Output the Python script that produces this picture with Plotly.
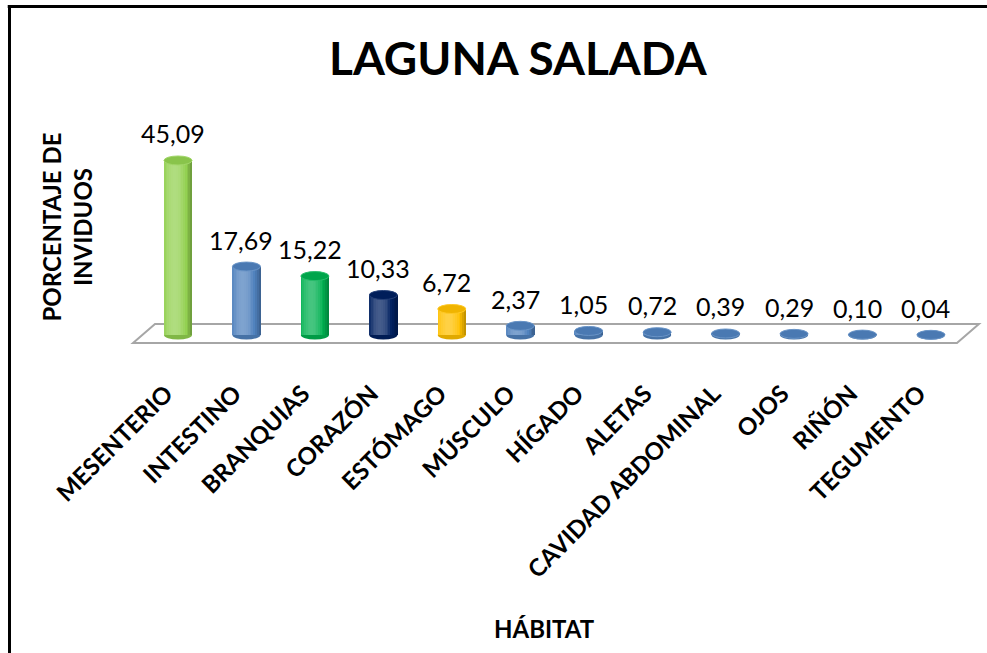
import math
import plotly.graph_objects as go

# ---- data -------------------------------------------------------------
categories = ["MESENTERIO", "INTESTINO", "BRANQUIAS", "CORAZÓN", "ESTÓMAGO",
              "MÚSCULO", "HÍGADO", "ALETAS", "CAVIDAD ABDOMINAL", "OJOS",
              "RIÑÓN", "TEGUMENTO"]
values = [45.09, 17.69, 15.22, 10.33, 6.72, 2.37, 1.05, 0.72, 0.39, 0.29, 0.10, 0.04]
bar_colors = ["#92D050", "#4F81BD", "#00B050", "#002060", "#FFC000",
              "#4F81BD", "#4F81BD", "#4F81BD", "#4F81BD", "#4F81BD",
              "#4F81BD", "#4F81BD"]
title_text = "LAGUNA SALADA"
y_title = "PORCENTAJE DE<br>INVIDUOS"
x_title = "HÁBITAT"

# ---- geometry ---------------------------------------------------------
W, H = 987, 653
ML, MR, MT, MB = 100, 0, 100, 303
PW, PH = W - ML - MR, H - MT - MB
X_RANGE = [-1.1395, 11.819]
Y_RANGE = [-3.876, 60.72]
px_per_y = PH / (Y_RANGE[1] - Y_RANGE[0])

HALF_W = 0.205            # cylinder half width (category units)
ELL_H = 4.5 / px_per_y    # ellipse half height (value units)
N_STRIPS = 16

FONT = "Lato, 'Open Sans', sans-serif"


def px_to_paper(px, py):
    return (px - ML) / PW, (H - MB - py) / PH


def hex_rgb(c):
    c = c.lstrip("#")
    return [int(c[i:i + 2], 16) for i in (0, 2, 4)]


def shade(c, amt):
    r = hex_rgb(c)
    if amt >= 0:
        r = [v + (255 - v) * amt for v in r]
    else:
        r = [v * (1 + amt) for v in r]
    return "rgb(%d,%d,%d)" % tuple(int(round(max(0, min(255, v)))) for v in r)


def strip_shade(t):
    # light band left of centre, darker toward both edges
    s = math.cos(math.pi * (t - 0.38) / 1.25)
    return -0.28 + 0.55 * s


xs = list(range(len(categories)))
fig = go.Figure()
shapes = []

# floor
floor_front = -2.07
floor_back = 2.84
fx0, fx1 = -0.657, len(categories) - 1 + 0.38
skew = 0.321
shapes.append(dict(
    type="path", xref="x", yref="y", layer="below",
    path=f"M {fx0},{floor_front} L {fx1},{floor_front} L {fx1 + skew},{floor_back} "
         f"L {fx0 + skew},{floor_back} Z",
    fillcolor="white", line=dict(color="#A6A6A6", width=2)))

# bottom ellipses of the cylinders
for x, c in zip(xs, bar_colors):
    shapes.append(dict(type="circle", xref="x", yref="y", layer="below",
                       x0=x - HALF_W, x1=x + HALF_W, y0=-ELL_H, y1=ELL_H,
                       fillcolor=shade(c, -0.12), line=dict(width=0)))

# cylinder bodies as narrow shaded bar strips
dw = 2 * HALF_W / N_STRIPS
for k in range(N_STRIPS):
    t = (k + 0.5) / N_STRIPS
    amt = strip_shade(t)
    fig.add_trace(go.Bar(
        x=xs, y=values, base=0,
        width=dw * 1.25, offset=-HALF_W + k * dw - dw * 0.125,
        marker=dict(color=[shade(c, amt) for c in bar_colors], line=dict(width=0)),
        hoverinfo="skip", showlegend=False))

# top ellipses
for x, v, c in zip(xs, values, bar_colors):
    shapes.append(dict(type="circle", xref="x", yref="y", layer="above",
                       x0=x - HALF_W, x1=x + HALF_W, y0=v - ELL_H, y1=v + ELL_H,
                       fillcolor=shade(c, -0.06), line=dict(color=shade(c, 0.15), width=1)))

# frame lines (left and top)
p0 = px_to_paper(9.5, 6.5)
p_bottom = px_to_paper(9.5, H + 5)
p_right = px_to_paper(W + 5, 6.5)
shapes.append(dict(type="line", xref="paper", yref="paper", layer="above",
                   x0=p0[0], y0=p0[1], x1=p_bottom[0], y1=p_bottom[1],
                   line=dict(color="black", width=3)))
shapes.append(dict(type="line", xref="paper", yref="paper", layer="above",
                   x0=p0[0] - 0.002, y0=p0[1], x1=p_right[0], y1=p_right[1],
                   line=dict(color="black", width=3)))

annotations = []
# value labels
for x, v in zip(xs, values):
    annotations.append(dict(x=x, y=v, xref="x", yref="y", text=f"{v:.2f}".replace(".", ","),
                            showarrow=False, yanchor="bottom", xanchor="center",
                            yshift=10, xshift=-5,
                            font=dict(family=FONT, size=25, color="black")))

tx, ty = px_to_paper(518, 57)
annotations.append(dict(x=tx, y=ty, xref="paper", yref="paper", text=f"<b>{title_text}</b>",
                        showarrow=False, xanchor="center", yanchor="middle",
                        font=dict(family=FONT, size=46, color="black")))
yx, yy = px_to_paper(66.5, 227)
annotations.append(dict(x=yx, y=yy, xref="paper", yref="paper", text=f"<b>{y_title}</b>",
                        showarrow=False, xanchor="center", yanchor="middle", textangle=-90,
                        font=dict(family=FONT, size=24, color="black")))
hx, hy = px_to_paper(544.5, 628)
annotations.append(dict(x=hx, y=hy, xref="paper", yref="paper", text=f"<b>{x_title}</b>",
                        showarrow=False, xanchor="center", yanchor="middle",
                        font=dict(family=FONT, size=24, color="black")))

fig.update_layout(
    width=W, height=H,
    margin=dict(l=ML, r=MR, t=MT, b=MB),
    paper_bgcolor="white", plot_bgcolor="white",
    barmode="overlay", bargap=0,
    shapes=shapes, annotations=annotations,
    xaxis=dict(range=X_RANGE, tickmode="array", tickvals=xs,
               ticktext=[f"<b>{c}</b>" for c in categories],
               tickangle=-45, showgrid=False, zeroline=False, showline=False,
               ticks="", ticklabelstandoff=24, ticklabelshift=-12,
               tickfont=dict(family=FONT, size=24, color="black")),
    yaxis=dict(range=Y_RANGE, showgrid=False, zeroline=False, showline=False,
               showticklabels=False, ticks=""),
)

fig.write_html("out.html")
